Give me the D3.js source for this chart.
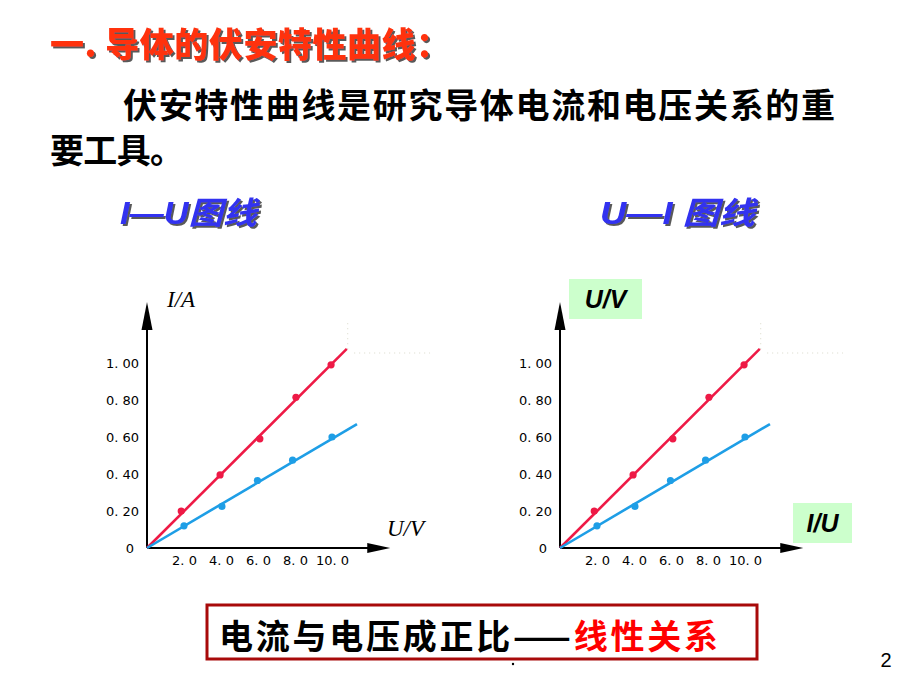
<!DOCTYPE html>
<html><head><meta charset="utf-8">
<script src="https://cdn.jsdelivr.net/npm/d3@7/dist/d3.min.js"></script>
<style>body{margin:0;background:#fff}svg{display:block}</style>
</head><body>
<svg id="c" width="920" height="690"></svg>
<script>
// ---- data ----
const redU = [1.85, 3.95, 6.1, 8.05, 9.95];
const redI = [0.20, 0.395, 0.59, 0.815, 0.99];
const blueU = [2.0, 4.05, 5.97, 7.87, 10.0];
const blueI = [0.12, 0.225, 0.365, 0.475, 0.60];
const redFit = [[0, 0], [10.8, 1.076]];
const blueFit = [[0, 0], [11.35, 0.67]];
const xTicks = [2, 4, 6, 8, 10];
const xTickLabels = ["2. 0", "4. 0", "6. 0", "8. 0", "10. 0"];
const yTicks = [0.2, 0.4, 0.6, 0.8, 1.0];
const yTickLabels = ["0. 20", "0. 40", "0. 60", "0. 80", "1. 00"];
const xDomain = [0, 10];
const yDomain = [0, 1];
const axisEnds = {x: 13.15, y: 1.33};

const svg = d3.select("#c");
svg.append("rect").attr("width", 920).attr("height", 690).attr("fill", "#fff");
const defs = svg.append("defs");
const f1 = defs.append("filter").attr("id", "sh").attr("x", "-10%").attr("y", "-20%").attr("width", "130%").attr("height", "160%");
f1.append("feDropShadow").attr("dx", 2).attr("dy", 2).attr("stdDeviation", 0.3).attr("flood-color", "#333").attr("flood-opacity", 0.8);

const CJK = "'Noto Sans CJK SC','Noto Sans',sans-serif";

// headings
svg.append("text").attr("x", 50).attr("y", 42).attr("dominant-baseline", "central")
  .attr("font-family", CJK).attr("font-weight", 900).attr("font-size", 34)
  .attr("fill", "#ff3010").attr("filter", "url(#sh)")
  .attr("textLength", 400).attr("lengthAdjust", "spacing")
  .text("一. 导体的伏安特性曲线：");
svg.append("text").attr("x", 123).attr("y", 103).attr("dominant-baseline", "central")
  .attr("font-family", CJK).attr("font-weight", 700).attr("font-size", 34).attr("fill", "#000")
  .attr("textLength", 712).attr("lengthAdjust", "spacing")
  .text("伏安特性曲线是研究导体电流和电压关系的重");
svg.append("text").attr("x", 50).attr("y", 148).attr("dominant-baseline", "central")
  .attr("font-family", CJK).attr("font-weight", 700).attr("font-size", 34).attr("fill", "#000")
  .attr("textLength", 134).attr("lengthAdjust", "spacing")
  .text("要工具。");

// subtitles
[["I—U图线", 120, 137], ["U—I 图线", 600, 155]].forEach(([t, x, w]) => {
  svg.append("text").attr("x", x).attr("y", 213).attr("dominant-baseline", "central")
    .attr("font-family", "'Liberation Sans'," + CJK).attr("font-weight", 700).attr("font-style", "italic")
    .attr("font-size", 31).attr("fill", "#3030f0").attr("filter", "url(#sh)")
    .attr("textLength", w).attr("lengthAdjust", "spacingAndGlyphs")
    .text(t);
});

function drawChart(x0, showGreen) {
  const x = d3.scaleLinear().domain(xDomain).range([x0, x0 + 185]);
  const y = d3.scaleLinear().domain(yDomain).range([548, 363]);
  const g = svg.append("g");

  // faint dotted remnants
  g.append("line").attr("x1", x(10.85)).attr("x2", x(10.85)).attr("y1", y(1.215)).attr("y2", y(1.07))
    .attr("stroke", "#d8d8c8").attr("stroke-width", 1).attr("stroke-dasharray", "1,4");
  g.append("line").attr("x1", x(11.2)).attr("x2", x(15.3)).attr("y1", y(1.054)).attr("y2", y(1.054))
    .attr("stroke", "#d8d8c8").attr("stroke-width", 1).attr("stroke-dasharray", "1,4");

  // axes lines + arrows
  g.append("line").attr("x1", x(0)).attr("x2", x(0)).attr("y1", y(0)).attr("y2", y(axisEnds.y) + 20)
    .attr("stroke", "#000").attr("stroke-width", 2);
  g.append("line").attr("x1", x(0)).attr("x2", x(axisEnds.x) - 16).attr("y1", y(0)).attr("y2", y(0))
    .attr("stroke", "#000").attr("stroke-width", 2);
  const ty = y(axisEnds.y), tx = x(axisEnds.x);
  g.append("path").attr("d", `M${x(0)},${ty} L${x(0) - 5.5},${ty + 28} L${x(0) + 5.5},${ty + 28} Z`).attr("fill", "#000");
  g.append("path").attr("d", `M${tx},${y(0)} L${tx - 23},${y(0) - 5} L${tx - 23},${y(0) + 5} Z`).attr("fill", "#000");

  // tick labels via d3 axes
  const xa = g.append("g").attr("transform", `translate(0,${y(0)})`)
    .call(d3.axisBottom(x).tickValues(xTicks).tickSize(0).tickPadding(8)
      .tickFormat((d, i) => xTickLabels[i]));
  const ya = g.append("g").attr("transform", `translate(${x(0) - 8},0)`)
    .call(d3.axisLeft(y).tickValues(yTicks).tickSize(0).tickPadding(0)
      .tickFormat((d, i) => yTickLabels[i]));
  [xa, ya].forEach(a => {
    a.select(".domain").remove();
    a.selectAll("text").attr("font-family", "'DejaVu Sans',sans-serif").attr("font-size", 13)
      .attr("letter-spacing", 0).attr("fill", "#000");
  });
  g.append("text").attr("x", x(0) - 17).attr("y", y(0) + 5).attr("text-anchor", "middle")
    .attr("font-family", "'DejaVu Sans',sans-serif").attr("font-size", 13).attr("fill", "#000").text("0");

  // fit lines
  const line = d3.line().x(d => x(d[0])).y(d => y(d[1]));
  g.append("path").attr("d", line(redFit)).attr("stroke", "#ee1a46").attr("stroke-width", 2.6).attr("fill", "none");
  g.append("path").attr("d", line(blueFit)).attr("stroke", "#1e9ee6").attr("stroke-width", 2.6).attr("fill", "none");
  // points
  g.selectAll(".rp").data(redU).enter().append("circle")
    .attr("cx", d => x(d)).attr("cy", (d, i) => y(redI[i])).attr("r", 3.6).attr("fill", "#ee1a46");
  g.selectAll(".bp").data(blueU).enter().append("circle")
    .attr("cx", d => x(d)).attr("cy", (d, i) => y(blueI[i])).attr("r", 3.6).attr("fill", "#1e9ee6");

  if (!showGreen) {
    g.append("text").attr("x", x(0) + 20).attr("y", 307)
      .attr("font-family", "'Liberation Serif',serif").attr("font-style", "italic").attr("font-size", 23)
      .text("I/A");
    g.append("text").attr("x", 387).attr("y", 536)
      .attr("font-family", "'Liberation Serif',serif").attr("font-style", "italic").attr("font-size", 23)
      .text("U/V");
  } else {
    const boxes = [["U/V", 569, 279, 73, 40], ["I/U", 793, 503, 59, 40]];
    boxes.forEach(([t, bx, by, bw, bh]) => {
      g.append("rect").attr("x", bx).attr("y", by).attr("width", bw).attr("height", bh).attr("fill", "#ccffcc");
      g.append("text").attr("x", bx + bw / 2).attr("y", by + bh / 2 + 9).attr("text-anchor", "middle")
        .attr("font-family", "'Liberation Sans',sans-serif").attr("font-weight", 700).attr("font-style", "italic")
        .attr("font-size", 25).attr("fill", "#000").text(t);
    });
  }
}
drawChart(147, false);
drawChart(560, true);

// bottom box
svg.append("rect").attr("x", 207).attr("y", 605).attr("width", 550).attr("height", 54)
  .attr("fill", "#fff").attr("stroke", "#a80a0a").attr("stroke-width", 3);
const bt = svg.append("text").attr("x", 219).attr("y", 634).attr("dominant-baseline", "central")
  .attr("font-family", CJK).attr("font-weight", 700).attr("font-size", 34)
  .attr("textLength", 499).attr("lengthAdjust", "spacing");
bt.append("tspan").attr("fill", "#000").text("电流与电压成正比——");
bt.append("tspan").attr("fill", "#ff0000").text("线性关系");
svg.append("circle").attr("cx", 513).attr("cy", 664).attr("r", 1.2).attr("fill", "#000");
svg.append("text").attr("x", 886).attr("y", 667).attr("text-anchor", "middle")
  .attr("font-family", "'Liberation Sans',sans-serif").attr("font-size", 20).attr("fill", "#000").text("2");
</script>
</body></html>
